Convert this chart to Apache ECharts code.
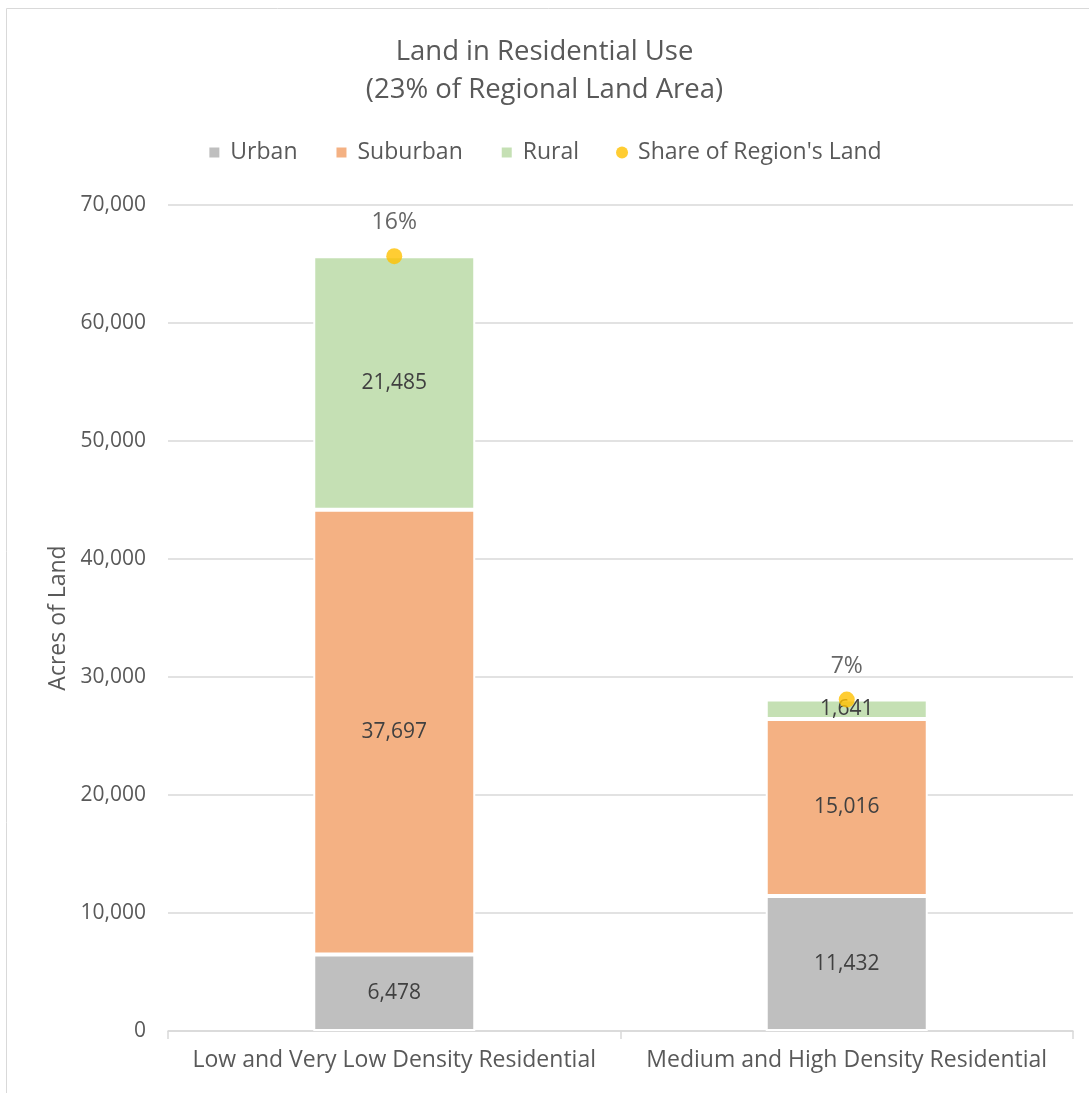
<!DOCTYPE html>
<html><head><meta charset="utf-8">
<script src="https://cdn.jsdelivr.net/npm/echarts@6/dist/echarts.min.js"></script>
<style>html,body{margin:0;padding:0;background:#fff}#c{width:1089px;height:1093px}</style>
</head><body><div id="c"></div>
<script>
const categories = ['Low and Very Low Density Residential', 'Medium and High Density Residential'];
const urban = [6478, 11432];
const suburban = [37697, 15016];
const rural = [21485, 1641];
const shareLabels = ['16%', '7%'];
const totals = categories.map((c, i) => urban[i] + suburban[i] + rural[i]);
const yTicks = [0, 10000, 20000, 30000, 40000, 50000, 60000, 70000];

const FONT = '"Open Sans", "Noto Sans", sans-serif';
const TXT = '#595959';
const fmt = v => v.toLocaleString('en-US');

const chart = echarts.init(document.getElementById('c'));
const barLabel = {show: true, position: 'inside', color: '#404040', fontSize: 21, fontFamily: FONT,
  formatter: p => fmt(p.value)};
const barBase = {type: 'bar', stack: 'a', barWidth: 162, label: barLabel, emphasis: {disabled: true}};
chart.setOption({
  animation: false,
  title: {text: 'Land in Residential Use\n(23% of Regional Land Area)', left: 'center', top: 28,
    textStyle: {fontFamily: FONT, fontWeight: 'normal', fontSize: 27.5, color: TXT, lineHeight: 38}},
  legend: {top: 136, left: 'center', itemGap: 37, itemWidth: 12, itemHeight: 12,
    textStyle: {fontFamily: FONT, fontSize: 23, color: TXT, padding: [0, 0, 0, 5]},
    data: [{name: 'Urban', icon: 'rect'}, {name: 'Suburban', icon: 'rect'}, {name: 'Rural', icon: 'rect'},
      {name: "Share of Region's Land", icon: 'circle'}]},
  graphic: [{type: 'rect', shape: {x: 6.5, y: 8.5, width: 1100, height: 1100}, silent: true,
    style: {fill: 'none', stroke: '#d9d9d9', lineWidth: 1}}],
  grid: {left: 168, right: 16, top: 205, bottom: 62},
  xAxis: {type: 'category', data: categories,
    axisLine: {lineStyle: {color: '#d9d9d9', width: 1.5}},
    axisTick: {show: true, length: 8, lineStyle: {color: '#d9d9d9', width: 1.5}},
    axisLabel: {interval: 0, hideOverlap: false, fontFamily: FONT, fontSize: 23, color: TXT, margin: 18}},
  yAxis: {type: 'value', min: 0, max: 70000, interval: 10000,
    name: 'Acres of Land', nameLocation: 'middle', nameGap: 98, nameRotate: 90,
    nameTextStyle: {fontFamily: FONT, fontSize: 23, color: TXT},
    axisLine: {show: false}, axisTick: {show: false},
    splitLine: {lineStyle: {color: '#d9d9d9', width: 1.5}},
    axisLabel: {fontFamily: FONT, fontSize: 21, color: TXT, margin: 22,
      formatter: v => yTicks.includes(v) ? fmt(v) : ''}},
  series: [
    Object.assign({}, barBase, {name: 'Urban', data: urban,
      itemStyle: {color: '#bfbfbf', borderColor: '#fff', borderWidth: 2}}),
    Object.assign({}, barBase, {name: 'Suburban', data: suburban,
      itemStyle: {color: '#f4b183', borderColor: '#fff', borderWidth: 2}}),
    Object.assign({}, barBase, {name: 'Rural', data: rural,
      itemStyle: {color: '#c5e0b4', borderColor: '#fff', borderWidth: 2}}),
    {name: "Share of Region's Land", type: 'scatter', data: totals, symbolSize: 16, z: 5,
      itemStyle: {color: '#ffc000'}, emphasis: {disabled: true},
      label: {show: true, position: 'top', distance: 14, fontFamily: FONT, fontSize: 23, color: '#404040',
        formatter: p => shareLabels[p.dataIndex]}}
  ]
});
</script></body></html>
